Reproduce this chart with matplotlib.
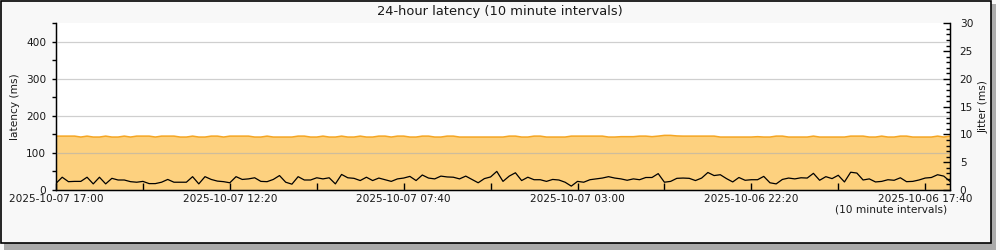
import matplotlib
matplotlib.use("Agg")
import matplotlib.pyplot as plt
from matplotlib.patches import Rectangle
from matplotlib.ticker import MultipleLocator, FixedLocator
import numpy as np

# ---------------- data ----------------
title = "24-hour latency (10 minute intervals)"
xlabel_note = "(10 minute intervals)"
tick_labels = ["2025-10-07 17:00", "2025-10-07 12:20", "2025-10-07 07:40",
               "2025-10-07 03:00", "2025-10-06 22:20", "2025-10-06 17:40"]
tick_intervals = [0, 28, 56, 84, 112, 140]

latency = [
    145.5, 145.5, 145.5, 145.5, 143, 145.5, 143, 143, 145.5, 143,
    143, 145.5, 143, 145.5, 145.5, 145.5, 143, 145.5, 145.5, 145.5,
    143, 143, 145.5, 143, 143, 145.5, 145.5, 143, 145.5, 145.5,
    145.5, 145.5, 143, 143, 145.5, 143, 143, 143, 143, 145.5,
    145.5, 143, 143, 145.5, 143, 143, 145.5, 143, 143, 145.5,
    143, 143, 145.5, 145.5, 143, 145.5, 145.5, 143, 143, 145.5,
    145.5, 143, 143, 145.5, 145.5, 143, 143, 143, 143, 143,
    143, 143, 143, 145.5, 145.5, 143, 143, 145.5, 145.5, 143,
    143, 143, 143, 145.5, 145.5, 145.5, 145.5, 145.5, 145.5, 143,
    143, 144, 144, 144, 145.5, 145.5, 144, 145.5, 147.5, 147.5,
    146, 145.5, 145.5, 145.5, 145.5, 145.5, 145.5, 143, 143, 143,
    143, 143, 143, 144, 143, 143, 145.5, 145.5, 143, 143,
    143, 143, 145.5, 143, 143, 143, 143, 143, 145.5, 145.5,
    145.5, 143, 143, 145.5, 143, 143, 145.5, 145.5, 143, 143,
    143, 143, 145.5, 143, 145.5,
]

jitter = [
    1.2, 2.3, 1.5, 1.55, 1.55, 2.3, 1.1, 2.3, 1.1, 2.1,
    1.8, 1.8, 1.5, 1.4, 1.55, 1.15, 1.15, 1.4, 1.9, 1.4,
    1.4, 1.4, 2.4, 1.1, 2.4, 1.9, 1.6, 1.5, 1.3, 2.4,
    1.9, 2.0, 2.2, 1.55, 1.5, 1.9, 2.6, 1.4, 1.05, 2.4,
    1.8, 1.8, 2.2, 2.0, 2.2, 1.1, 2.8, 2.2, 2.1, 1.7,
    2.3, 1.7, 2.15, 1.85, 1.55, 2.0, 2.15, 2.45, 1.7, 2.7,
    2.15, 2.0, 2.5, 2.35, 2.3, 2.0, 2.5, 1.9, 1.3, 2.05,
    2.35, 3.35, 1.55, 2.5, 3.1, 1.7, 2.3, 1.85, 1.85, 1.55,
    1.9, 1.8, 1.4, 0.7, 1.55, 1.4, 1.85, 2.0, 2.15, 2.4,
    2.15, 2.0, 1.75, 2.0, 1.85, 2.25, 2.25, 2.95, 1.4, 1.55,
    2.1, 2.15, 2.1, 1.7, 2.15, 3.15, 2.6, 2.75, 2.05, 1.45,
    2.25, 1.75, 1.85, 1.85, 2.45, 1.3, 1.1, 1.9, 2.15, 2.0,
    2.2, 2.15, 3.0, 1.75, 2.4, 2.05, 2.65, 1.45, 3.2, 3.05,
    1.8, 2.0, 1.45, 1.55, 1.85, 1.75, 2.2, 1.5, 1.55, 1.8,
    2.15, 2.25, 2.75, 2.5, 1.55,
]

# ---------------- figure ----------------
FS = 7.6
TXT = "#1a1a1a"
plt.rcParams['font.family'] = ['DejaVu Sans']
plt.rcParams['font.size'] = FS
plt.rcParams['text.color'] = TXT
plt.rcParams['xtick.labelcolor'] = TXT
plt.rcParams['ytick.labelcolor'] = TXT
plt.rcParams['axes.labelcolor'] = TXT

fig = plt.figure(figsize=(10, 2.5), dpi=100)
fig.patch.set_facecolor("#f8f8f8")

# frame with shadow
fig.patches.append(Rectangle((0.004, 0.0), 0.992, 0.985, transform=fig.transFigure,
                             facecolor="#aaaaaa", edgecolor="none", zorder=-10))
fig.patches.append(Rectangle((0.0005, 0.028), 0.99, 0.970, transform=fig.transFigure,
                             facecolor="#f8f8f8", edgecolor="black", linewidth=1.2, zorder=-9))

ax = fig.add_axes([0.056, 0.24, 0.894, 0.6667])
ax.set_facecolor("white")
x = np.arange(len(latency))

ax.fill_between(x, 0, latency, facecolor="#fdd17f", edgecolor="none", zorder=1)
ax.plot(x, latency, color="#f5a623", linewidth=1.1, zorder=2)

ax.set_xlim(0, 144)
ax.set_ylim(0, 450)
ax.yaxis.set_major_locator(MultipleLocator(100))
ax.yaxis.set_minor_locator(MultipleLocator(50))
ax.grid(axis="y", which="major", color="#b0b0b0", alpha=0.6, linewidth=0.9, zorder=3)
ax.set_axisbelow(False)
ax.set_ylabel("latency (ms)", fontsize=FS, labelpad=4)

ax.xaxis.set_major_locator(FixedLocator(tick_intervals))
ax.xaxis.set_minor_locator(FixedLocator([t + 14 for t in tick_intervals]))
ax.set_xticklabels(tick_labels)
ax.tick_params(axis="x", which="both", direction="in", length=5, width=1, pad=3, labelsize=FS)
ax.tick_params(axis="y", which="both", direction="out", length=3, width=1, pad=4, labelsize=FS)

ax.spines["top"].set_visible(False)
for s in ["left", "bottom", "right"]:
    ax.spines[s].set_linewidth(1.0)

ax2 = ax.twinx()
ax2.plot(x, jitter, color="black", linewidth=0.9, zorder=4)
ax2.set_ylim(0, 30)
ax2.yaxis.set_major_locator(MultipleLocator(5))
ax2.yaxis.set_minor_locator(MultipleLocator(1))
ax2.tick_params(axis="y", which="major", direction="in", length=5, width=1, pad=7, labelsize=FS)
ax2.tick_params(axis="y", which="minor", direction="in", length=3, width=1)
ax2.set_ylabel("Jitter (ms)", fontsize=FS, labelpad=4)
ax2.spines["top"].set_visible(False)

fig.text(0.5, 0.954, title, ha="center", va="center", fontsize=9.4)
fig.text(0.947, 0.163, xlabel_note, ha="right", va="center", fontsize=FS)

fig.savefig("out.png", dpi=100, facecolor=fig.get_facecolor())
